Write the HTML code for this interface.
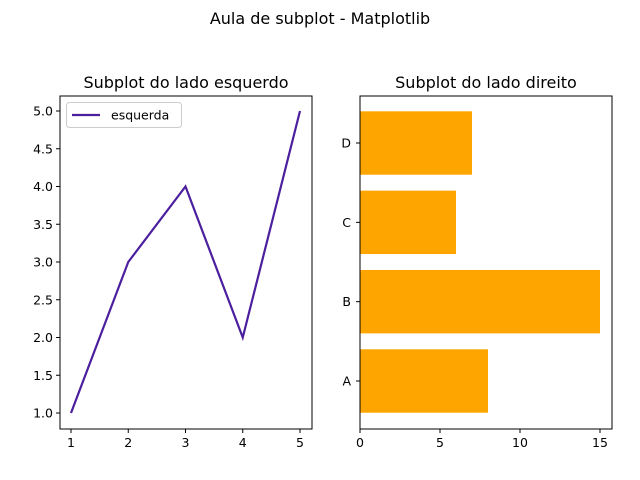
<!DOCTYPE html>
<html><head><meta charset="utf-8"><style>
body{margin:0;background:#fff;}
svg{display:block;font-family:"DejaVu Sans","Liberation Sans",sans-serif;}
</style></head><body>
<svg id="c" width="640" height="480" xmlns="http://www.w3.org/2000/svg">
<rect width="640" height="480" fill="#fff"/>
<text x="320" y="24" text-anchor="middle" font-size="16">Aula de subplot - Matplotlib</text>
<text x="186" y="88" text-anchor="middle" font-size="16">Subplot do lado esquerdo</text>
<text x="486" y="88" text-anchor="middle" font-size="16">Subplot do lado direito</text>
<g id="L"></g><g id="R"></g>
</svg>
<script>
const lineX=[1,2,3,4,5];
const lineY=[1,3,4,2,5];
const yTicks=[1.0,1.5,2.0,2.5,3.0,3.5,4.0,4.5,5.0];
const xTicksL=[1,2,3,4,5];
const cats=["A","B","C","D"];
const barVals=[8,15,6,7];
const xTicksR=[0,5,10,15];
const NS="http://www.w3.org/2000/svg";
function mk(p,t,a,txt){const e=document.createElementNS(NS,t);for(const k in a)e.setAttribute(k,a[k]);if(txt!==undefined)e.textContent=txt;p.appendChild(e);return e;}
const L=document.getElementById('L'),R=document.getElementById('R');
const lx=v=>71+(v-1)*57.25, ly=v=>413-(v-1)*75.5;
yTicks.forEach(t=>{const y=ly(t);
const tk=mk(L,'line',{x1:56,x2:60,y1:y,y2:y,stroke:'#000'});


const lb=mk(L,'text',{x:53,y:y+4.5,'text-anchor':'end','font-size':12.5},t.toFixed(1));

});
xTicksL.forEach(t=>{const x=lx(t);
const tk=mk(L,'line',{x1:x,x2:x,y1:429,y2:433,stroke:'#000'});


const lb=mk(L,'text',{x:x,y:447,'text-anchor':'middle','font-size':12.5},t);

});
const pl=mk(L,'polyline',{points:lineX.map((x,i)=>lx(x)+','+ly(lineY[i])).join(' '),fill:'none',stroke:'#4b1f9e','stroke-width':2.2});


const fr=mk(L,'rect',{x:60,y:96,width:252,height:333,fill:'none',stroke:'#000','stroke-width':1});


const lg=mk(L,'g',{});


mk(lg,'rect',{x:66.5,y:102.5,width:115,height:25,rx:3,fill:'#fff',stroke:'#ccc'});
mk(lg,'line',{x1:72,x2:100,y1:115,y2:115,stroke:'#4b1f9e','stroke-width':2.2});
mk(lg,'text',{x:111,y:119.5,'font-size':12.5},'esquerda');
const rx=v=>360+v*16, ry=i=>381-i*79.33;
cats.forEach((c,i)=>{const b=mk(R,'rect',{x:rx(0),y:ry(i)-31.7,width:rx(barVals[i])-rx(0),height:63.4,fill:'#ffa500'});


const tk=mk(R,'line',{x1:356,x2:360,y1:ry(i),y2:ry(i),stroke:'#000'});


const lb=mk(R,'text',{x:351,y:ry(i)+4.5,'text-anchor':'end','font-size':12.5},c);

});
xTicksR.forEach(t=>{const x=rx(t);
const tk=mk(R,'line',{x1:x,x2:x,y1:429,y2:433,stroke:'#000'});


const lb=mk(R,'text',{x:x,y:447,'text-anchor':'middle','font-size':12.5},t);

});
const fr2=mk(R,'rect',{x:360,y:96,width:252,height:333,fill:'none',stroke:'#000','stroke-width':1});


</script>
</body></html>
